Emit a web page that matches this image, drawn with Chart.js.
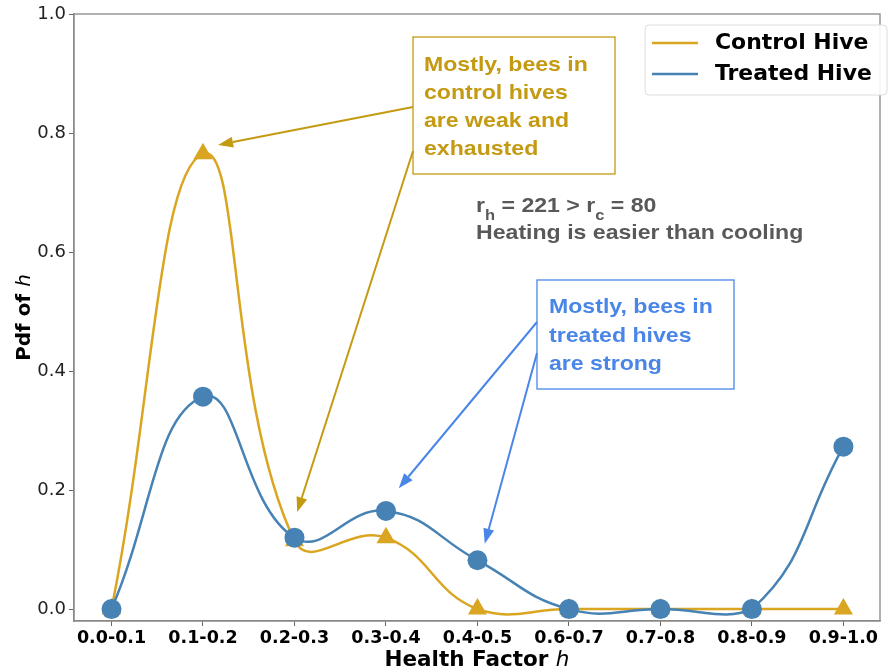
<!DOCTYPE html>
<html>
<head>
<meta charset="utf-8">
<script src="https://cdn.jsdelivr.net/npm/chart.js@4/dist/chart.umd.min.js"></script>
<style>
  html, body { margin: 0; padding: 0; background: #fff; }
  #wrap { width: 891px; height: 669px; }
</style>
</head>
<body>
<div id="wrap"><canvas id="grafico" width="891" height="669"></canvas></div>
<script>
const faixas = ['0.0-0.1', '0.1-0.2', '0.2-0.3', '0.3-0.4', '0.4-0.5', '0.6-0.7', '0.7-0.8', '0.8-0.9', '0.9-1.0'];
const controle = [0, 0.765, 0.115, 0.12, 0, 0, 0, 0, 0];
const tratado = [0, 0.357, 0.12, 0.165, 0.082, 0, 0, 0, 0.273];
const yTicks = [0, 0.2, 0.4, 0.6, 0.8, 1.0];

const ouro = '#DAA520';
const azul = '#4682B4';
const ouroTexto = '#C49A12';
const azulTexto = '#4A86E8';

// arrows: tip in data units, tail in pixels
const setas = [
  { cor: ouroTexto, de: [413, 107], x: 1.165, y: 0.78 },
  { cor: ouroTexto, de: [413, 151], x: 2.03, y: 0.163 },
  { cor: azulTexto, de: [537, 322], x: 3.14, y: 0.203 },
  { cor: azulTexto, de: [537, 353], x: 4.08, y: 0.11 }
];

function pontos(vals) {
  return vals.map((v, i) => ({ x: i, y: v }));
}

// text slightly widened, like the reference
function texto(ctx, t, x, y, esc) {
  ctx.save();
  ctx.translate(x, y);
  ctx.scale(esc, 1);
  ctx.fillText(t, 0, 0);
  ctx.restore();
  return ctx.measureText(t).width * esc;
}

function seta(ctx, x0, y0, x1, y1, cor) {
  const ang = Math.atan2(y1 - y0, x1 - x0);
  const len = 15, w = 5.5;
  const bx = x1 - len * Math.cos(ang), by = y1 - len * Math.sin(ang);
  ctx.strokeStyle = cor;
  ctx.fillStyle = cor;
  ctx.lineWidth = 2;
  ctx.beginPath();
  ctx.moveTo(x0, y0);
  ctx.lineTo(bx, by);
  ctx.stroke();
  ctx.beginPath();
  ctx.moveTo(x1, y1);
  ctx.lineTo(bx + w * Math.sin(ang), by - w * Math.cos(ang));
  ctx.lineTo(bx - w * Math.sin(ang), by + w * Math.cos(ang));
  ctx.closePath();
  ctx.fill();
}

const extras = {
  id: 'extras',
  afterDraw(chart) {
    const ctx = chart.ctx;
    const a = chart.chartArea;
    const sx = chart.scales.x, sy = chart.scales.y;
    ctx.save();

    // frame
    ctx.strokeStyle = '#888';
    ctx.lineWidth = 1.3;
    ctx.strokeRect(a.left, a.top, a.right - a.left, a.bottom - a.top);

    const fonteCaixa = 'bold 21px "Liberation Sans", Arial, sans-serif';

    // gold box
    ctx.fillStyle = '#fff';
    ctx.fillRect(413, 37, 202, 137);
    ctx.strokeStyle = ouroTexto;
    ctx.lineWidth = 1.3;
    ctx.strokeRect(413, 37, 202, 137);
    ctx.fillStyle = ouroTexto;
    ctx.font = fonteCaixa;
    ctx.textBaseline = 'alphabetic';
    ctx.textAlign = 'left';
    ['Mostly, bees in', 'control hives', 'are weak and', 'exhausted'].forEach((t, i) => {
      texto(ctx, t, 424, 71 + i * 28, 1.1);
    });

    // blue box
    ctx.fillStyle = '#fff';
    ctx.fillRect(537, 280, 197, 109);
    ctx.strokeStyle = azulTexto;
    ctx.strokeRect(537, 280, 197, 109);
    ctx.fillStyle = azulTexto;
    ['Mostly, bees in', 'treated hives', 'are strong'].forEach((t, i) => {
      texto(ctx, t, 549, 313 + i * 28.5, 1.1);
    });

    setas.forEach(s => {
      seta(ctx, s.de[0], s.de[1], sx.getPixelForValue(s.x), sy.getPixelForValue(s.y), s.cor);
    });

    // r_h text
    ctx.fillStyle = '#595959';
    const grande = 'bold 21px "Liberation Sans", Arial, sans-serif';
    const pequeno = 'bold 15px "Liberation Sans", Arial, sans-serif';
    let x = 476;
    const partes = [['r', 0], ['h', 1], [' = 221 > r', 0], ['c', 1], [' = 80', 0]];
    partes.forEach(([t, sub]) => {
      ctx.font = sub ? pequeno : grande;
      x += texto(ctx, t, x, sub ? 220 : 212, 1.1);
    });
    ctx.font = grande;
    texto(ctx, 'Heating is easier than cooling', 476, 239, 1.1);

    // legend
    ctx.fillStyle = 'rgba(255,255,255,0.9)';
    ctx.strokeStyle = '#dcdcdc';
    ctx.lineWidth = 1;
    ctx.beginPath();
    ctx.roundRect(645, 25, 242, 70, 4);
    ctx.fill();
    ctx.stroke();
    ctx.lineWidth = 2.5;
    [[ouro, 'Control Hive', 43], [azul, 'Treated Hive', 74]].forEach(([c, t, y]) => {
      ctx.strokeStyle = c;
      ctx.beginPath();
      ctx.moveTo(652, y);
      ctx.lineTo(698, y);
      ctx.stroke();
      ctx.fillStyle = '#000';
      ctx.font = 'bold 20.5px "DejaVu Sans", sans-serif';
      ctx.textBaseline = 'middle';
      texto(ctx, t, 715, y + 1, 1.07);
    });

    // axis titles
    ctx.textBaseline = 'alphabetic';
    ctx.fillStyle = '#000';
    const tx1 = 'Health Factor ';
    ctx.font = 'bold 21.5px "DejaVu Sans", sans-serif';
    const w1 = ctx.measureText(tx1).width;
    ctx.font = 'oblique 21.5px "DejaVu Sans", sans-serif';
    const w2 = ctx.measureText('h').width;
    const cx = (a.left + a.right) / 2 - (w1 + w2) / 2;
    ctx.font = 'bold 21.5px "DejaVu Sans", sans-serif';
    ctx.fillText(tx1, cx, 666);
    ctx.font = 'oblique 21.5px "DejaVu Sans", sans-serif';
    ctx.fillText('h', cx + w1, 666);

    ctx.translate(30, (a.top + a.bottom) / 2);
    ctx.rotate(-Math.PI / 2);
    const ty1 = 'Pdf of ';
    ctx.font = 'bold 20px "DejaVu Sans", sans-serif';
    const v1 = ctx.measureText(ty1).width;
    ctx.font = 'oblique 20px "DejaVu Sans", sans-serif';
    const v2 = ctx.measureText('h').width;
    ctx.font = 'bold 20px "DejaVu Sans", sans-serif';
    ctx.fillText(ty1, -(v1 + v2) / 2, 0);
    ctx.font = 'oblique 20px "DejaVu Sans", sans-serif';
    ctx.fillText('h', -(v1 + v2) / 2 + v1, 0);
    ctx.restore();
  }
};

new Chart(document.getElementById('grafico'), {
  type: 'line',
  data: {
    datasets: [
      {
        label: 'Control Hive',
        data: pontos(controle),
        borderColor: ouro,
        backgroundColor: ouro,
        borderWidth: 2.5,
        tension: 0.45,
        pointStyle: 'triangle',
        pointRadius: 11,
        pointBorderWidth: 0,
        order: 2
      },
      {
        label: 'Treated Hive',
        data: pontos(tratado),
        borderColor: azul,
        backgroundColor: azul,
        borderWidth: 2.5,
        tension: 0.45,
        pointStyle: 'circle',
        pointRadius: 10,
        pointBorderWidth: 0,
        order: 1
      }
    ]
  },
  options: {
    responsive: false,
    animation: false,
    layout: { padding: { top: 14, right: 1, left: 0, bottom: 0 } },
    plugins: {
      legend: { display: false },
      tooltip: { enabled: false }
    },
    scales: {
      x: {
        type: 'linear',
        min: -0.41,
        max: 8.4,
        afterFit: s => { s.height = 48; },
        grid: { drawOnChartArea: false, tickLength: 5, color: '#666' },
        border: { color: '#888', width: 1.3 },
        ticks: {
          stepSize: 1,
          includeBounds: false,
          autoSkip: false,
          maxRotation: 0,
          padding: 2,
          color: '#000',
          font: { family: '"DejaVu Sans", sans-serif', size: 17.5, weight: 'bold' },
          callback: v => (Number.isInteger(v) && faixas[v] !== undefined ? faixas[v] : '')
        }
      },
      y: {
        min: -0.02,
        max: 1.0,
        afterFit: s => { s.width = 74; },
        afterBuildTicks: s => { s.ticks = yTicks.map(v => ({ value: v })); },
        grid: { drawOnChartArea: false, tickLength: 5, color: '#666' },
        border: { color: '#888', width: 1.3 },
        ticks: {
          padding: 3,
          color: '#222',
          font: { family: '"DejaVu Sans", sans-serif', size: 18 },
          callback: v => v.toFixed(1)
        }
      }
    }
  },
  plugins: [extras]
});
</script>
</body>
</html>
